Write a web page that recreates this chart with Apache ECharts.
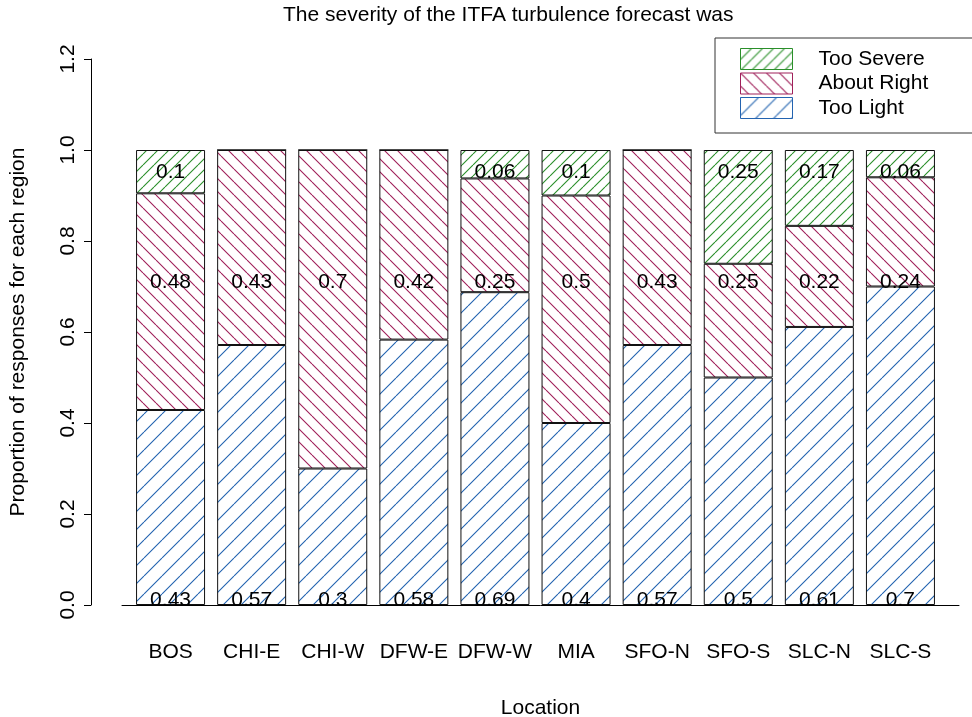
<!DOCTYPE html>
<html><head><meta charset="utf-8">
<script src="https://cdn.jsdelivr.net/npm/echarts@6/dist/echarts.min.js"></script>
<style>html,body{margin:0;padding:0;background:#fff}#c{width:972px;height:717px}</style>
</head><body><div id="c"></div>
<script>
// ---- data ----
const categories = ['BOS','CHI-E','CHI-W','DFW-E','DFW-W','MIA','SFO-N','SFO-S','SLC-N','SLC-S'];
const tooLight   = [0.4286,0.5714,0.30,0.5833,0.6875,0.40,0.5714,0.50,0.6111,0.70];
const aboutRight = [0.4762,0.4286,0.70,0.4167,0.25,0.50,0.4286,0.25,0.2222,0.24];
const tooSevere  = [0.0952,0,0,0,0.0625,0.10,0,0.25,0.1667,0.06];
const yTicks = ['0.0','0.2','0.4','0.6','0.8','1.0','1.2'];
const seriesNames = ['Too Light','About Right','Too Severe'];
const titleText = 'The severity of the ITFA turbulence forecast was';

// ---- style ----
const COLORS = {light:'#2363b0', right:'#a0205a', severe:'#2a8f2a'};
const LABEL_Y = {light:0.011, right:0.71, severe:0.952};
const FONT = 'Liberation Sans, Arial, Helvetica, sans-serif';
const FS = 21;

function hatch(color, s, dir){
  const c = document.createElement('canvas'); c.width = s; c.height = s;
  const g = c.getContext('2d'); g.strokeStyle = color; g.lineWidth = 1.1;
  g.beginPath();
  for (let k=-1;k<=1;k++){
    if (dir>0){ g.moveTo(k*s, s); g.lineTo(k*s+s, 0); }
    else { g.moveTo(k*s, 0); g.lineTo(k*s+s, s); }
  }
  g.stroke();
  return c;
}
function pat(color, s, dir){ return {image:hatch(color, s, dir), repeat:'repeat'}; }

function fmt(v){ return String(Math.round(v*100)/100); }

// title centred at x=503
const mctx = document.createElement('canvas').getContext('2d');
mctx.font = FS + 'px ' + FONT;
const titleLeft = Math.round(503 - mctx.measureText(titleText).width/2);

function barSeries(name, arr, color, s, dir){
  return {name, type:'bar', stack:'p', barWidth:69, animation:false,
    xAxisIndex:0, yAxisIndex:0,
    data: arr.slice(),
    itemStyle:{color:pat(color, s, dir), borderColor:'#111', borderWidth:1},
    emphasis:{disabled:true}, silent:true};
}
function labelSeries(arr, y){
  return {type:'scatter', symbolSize:0, silent:true, animation:false, z:10,
    xAxisIndex:0, yAxisIndex:0,
    itemStyle:{opacity:1},
    data: arr.map((v,i)=> v>0 ? {value:[categories[i],y], label:{formatter: fmt(v)}} : null).filter(d=>d),
    label:{show:true, position:'inside', fontSize:FS, color:'#000', fontFamily:FONT}};
}

const chart = echarts.init(document.getElementById('c'), null, {renderer:'canvas'});
chart.setOption({
  backgroundColor:'#fff',
  aria:{enabled:false, decal:{show:false}},
  textStyle:{fontFamily:FONT, color:'#000'},
  title:{text:titleText, left:titleLeft, top:0, textStyle:{fontSize:FS, fontWeight:'normal', color:'#000', fontFamily:FONT}},
  legend:{
    orient:'vertical', left:715, top:38, padding:[10,80,14,25],
    borderColor:'#333', borderWidth:1, itemWidth:52, itemHeight:21, itemGap:2.5,
    icon:'rect', selectedMode:false,
    textStyle:{fontSize:FS, lineHeight:21, color:'#000', fontFamily:FONT, padding:[0,0,0,21]},
    data:[
      {name:seriesNames[2], itemStyle:{color:pat(COLORS.severe, 11, 1), borderColor:COLORS.severe, borderWidth:1}},
      {name:seriesNames[1], itemStyle:{color:pat(COLORS.right, 13, -1), borderColor:COLORS.right, borderWidth:1}},
      {name:seriesNames[0], itemStyle:{color:pat(COLORS.light, 18, 1), borderColor:COLORS.light, borderWidth:1}}
    ]
  },
  grid:[
    {left:130, right:31, top:59, bottom:112, containLabel:false, outerBoundsMode:'none'},
    {left:122, right:13, top:59, bottom:112, containLabel:false, outerBoundsMode:'none'}
  ],
  xAxis:[
    {type:'category', gridIndex:0, data:categories, boundaryGap:true,
      axisLine:{show:false}, axisTick:{show:false}, splitLine:{show:false},
      axisLabel:{margin:37, fontSize:FS, color:'#000', fontFamily:FONT, interval:0}
    },
    {type:'value', gridIndex:1, min:0, max:1, position:'bottom',
      splitLine:{show:false}, axisTick:{show:false}, axisLabel:{show:false},
      axisLine:{show:true, onZero:false, lineStyle:{color:'#000', width:1}},
      name:'Location', nameLocation:'middle', nameGap:93,
      nameTextStyle:{fontSize:FS, color:'#000', fontFamily:FONT}
    }
  ],
  yAxis:[
    {type:'value', gridIndex:0, min:0, max:1.2, interval:0.2, offset:39,
      splitLine:{show:false},
      axisLine:{show:true, onZero:false, lineStyle:{color:'#000', width:1}},
      axisTick:{show:true, length:7, lineStyle:{color:'#000'}},
      axisLabel:{rotate:90, margin:12, fontSize:FS, color:'#000', fontFamily:FONT,
        formatter:(v)=>yTicks[Math.round(v/0.2)]},
      name:'Proportion of responses for each region', nameLocation:'middle', nameGap:62,
      nameTextStyle:{fontSize:FS, color:'#000', fontFamily:FONT}
    },
    {type:'value', gridIndex:1, min:0, max:1.2, show:false}
  ],
  series:[
    barSeries(seriesNames[0], tooLight, COLORS.light, 18, 1),
    barSeries(seriesNames[1], aboutRight, COLORS.right, 13, -1),
    barSeries(seriesNames[2], tooSevere, COLORS.severe, 11, 1),
    labelSeries(tooLight, LABEL_Y.light),
    labelSeries(aboutRight, LABEL_Y.right),
    labelSeries(tooSevere, LABEL_Y.severe)
  ]
});
</script></body></html>
